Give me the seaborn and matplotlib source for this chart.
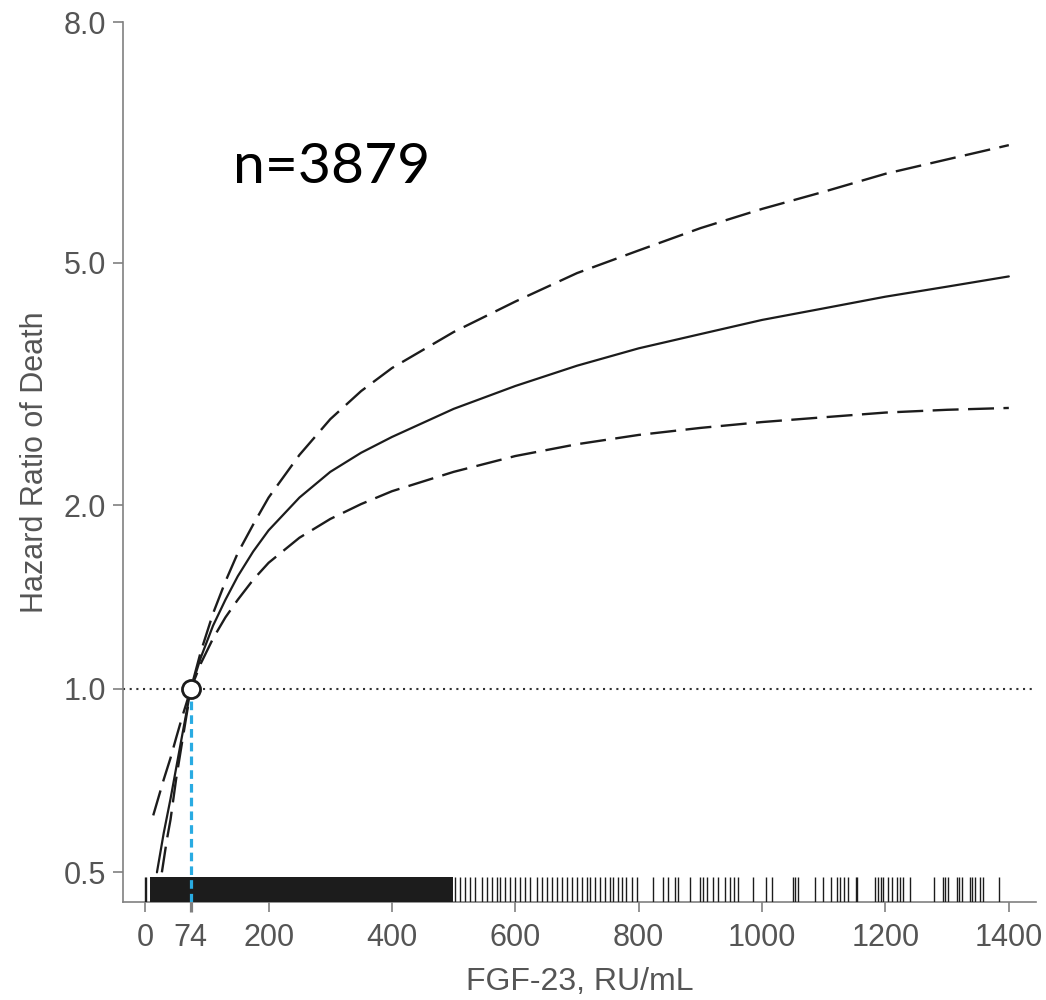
'''Hazard ratio of death vs FGF-23, spline with 95% CI and rug.'''
import matplotlib
matplotlib.use("Agg")
import matplotlib.pyplot as plt
import seaborn as sns

# curves: FGF-23 (RU/mL) -> hazard ratio
fgf = [19, 30, 41, 50, 60, 74, 90, 110, 130, 150, 175, 200, 250, 300, 350, 400,
       500, 600, 700, 800, 900, 1000, 1100, 1200, 1300, 1400]
hr = [0.50, 0.58, 0.66, 0.74, 0.84, 1.00, 1.125, 1.27, 1.40, 1.53, 1.68, 1.82,
      2.06, 2.27, 2.44, 2.59, 2.88, 3.14, 3.39, 3.62, 3.82, 4.03, 4.21, 4.40,
      4.57, 4.75]

fgf_upper = [13, 30, 41, 50, 60, 74, 90, 110, 130, 150, 175, 200, 250, 300, 350,
             400, 500, 600, 700, 800, 900, 1000, 1100, 1200, 1300, 1400]
hr_upper = [0.62, 0.71, 0.77, 0.83, 0.90, 1.00, 1.15, 1.33, 1.50, 1.67, 1.86,
            2.06, 2.42, 2.77, 3.08, 3.36, 3.85, 4.32, 4.81, 5.24, 5.70, 6.13,
            6.54, 7.00, 7.39, 7.80]

fgf_lower = [27, 35, 41, 50, 60, 74, 90, 110, 130, 150, 175, 200, 250, 300, 350,
             400, 500, 600, 700, 800, 900, 1000, 1100, 1200, 1300, 1400]
hr_lower = [0.50, 0.565, 0.61, 0.71, 0.82, 1.00, 1.10, 1.21, 1.31, 1.40, 1.51,
            1.61, 1.77, 1.90, 2.01, 2.11, 2.27, 2.41, 2.52, 2.61, 2.68, 2.74,
            2.79, 2.84, 2.87, 2.89]

# rug: dense band (solid black in the picture) plus individual ticks
rug_dense = (8, 499)
rug_values = [0, 2,
              502, 511, 519, 527, 535, 546, 554, 562, 571, 575, 583, 592, 600, 608,
              616, 624, 635, 643, 652, 660, 668, 676, 684, 692, 700, 708, 716, 721,
              729, 737, 746, 754, 758, 767, 773, 780, 789, 797,
              823, 840, 848, 859, 864, 883, 900, 905, 911, 920, 929,
              940, 948, 955, 961, 985, 1006, 1016, 1050, 1054, 1058,
              1086, 1099, 1112, 1121, 1127, 1133, 1139, 1152, 1154,
              1183, 1188, 1192, 1196, 1204, 1211, 1219, 1224, 1229, 1240,
              1279, 1293, 1297, 1301, 1316, 1320, 1324, 1337, 1341, 1345,
              1353, 1358, 1384]

ref_value = 74
n_label = "n=3879"

x_ticks = [0, 74, 200, 400, 600, 800, 1000, 1200, 1400]
y_top = 12.42
y_ticks = [0.5, 1.0, 2.0, 5.0, y_top]
y_tick_labels = ["0.5", "1.0", "2.0", "5.0", "8.0"]

sns.set_style("ticks")
plt.rcParams['font.family'] = ['Liberation Sans', 'DejaVu Sans']

grey = '#808080'
text_grey = '#555555'
blue = '#29abe2'
ink = '#1c1c1c'

fig = plt.figure(figsize=(10.46, 10.0), dpi=100)
ax = fig.add_axes([0.1176, 0.098, 0.8728, 0.880])
ax.set_yscale('log')

# reference line
ax.axhline(1.0, color='#333333', lw=1.5, ls=(0, (1, 2.2)), zorder=1)

# spline and confidence limits
sns.lineplot(x=fgf_upper, y=hr_upper, ax=ax, color=ink, lw=1.7, zorder=2)
ax.lines[-1].set_dashes((11, 4))
sns.lineplot(x=fgf_lower, y=hr_lower, ax=ax, color=ink, lw=1.7, zorder=2)
ax.lines[-1].set_dashes((11, 4))
sns.lineplot(x=fgf, y=hr, ax=ax, color=ink, lw=1.6, zorder=3)

# rug
ax.axvspan(rug_dense[0], rug_dense[1], ymin=0, ymax=0.028, color=ink, lw=0, zorder=4)
sns.rugplot(x=rug_values, ax=ax, height=0.028, color=ink, lw=2.0, zorder=4)

ax.vlines(ref_value, 0.447, 1.0, color=blue, lw=2.3, ls=(0, (2.7, 1.6)), zorder=5)
ax.plot([ref_value], [1.0], 'o', ms=13, mfc='white', mec=ink, mew=2.0, zorder=6)

ax.set_xlim(-36, 1444)
ax.set_ylim(0.447, y_top)
ax.set_xticks(x_ticks)
ax.set_xticklabels([str(t) for t in x_ticks])
ax.yaxis.set_minor_locator(matplotlib.ticker.NullLocator())
ax.set_yticks(y_ticks)
ax.set_yticklabels(y_tick_labels)

ax.tick_params(axis='both', colors=grey, labelcolor=text_grey, labelsize=22,
               width=1.2, length=7)
ax.tick_params(axis='y', pad=5)
ax.tick_params(axis='x', pad=8)
ax.xaxis.get_major_ticks()[1].tick1line.set_color(blue)
ax.xaxis.get_major_ticks()[1].tick1line.set_markeredgewidth(2.3)

for side in ('top', 'right'):
    ax.spines[side].set_visible(False)
for side in ('left', 'bottom'):
    ax.spines[side].set_color(grey)
    ax.spines[side].set_linewidth(1.2)

ax.set_xlabel('FGF-23, RU/mL', fontsize=23, color=text_grey, labelpad=10)
ax.set_ylabel('Hazard Ratio of Death', fontsize=22, color=text_grey, labelpad=10)

ax.text(0.120, 0.817, n_label, transform=ax.transAxes, fontsize=41,
        family=['Lato', 'DejaVu Sans'], color='black', va='baseline')

fig.savefig('out.png', dpi=100)
